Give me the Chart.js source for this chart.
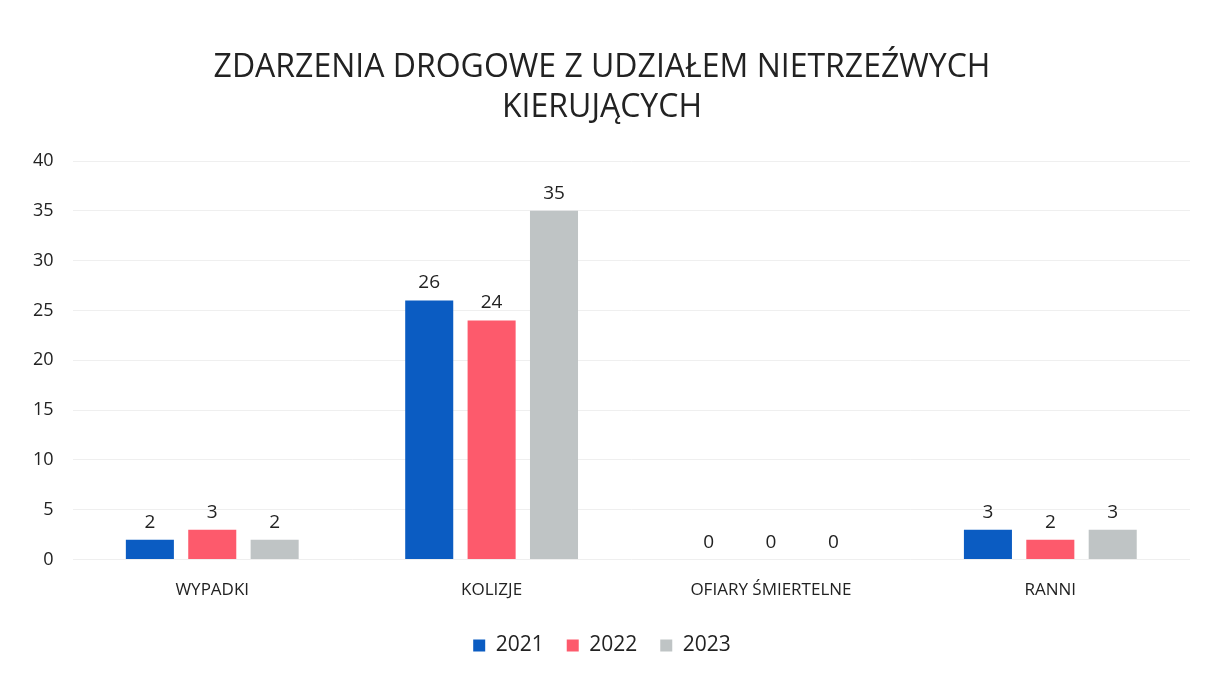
<!DOCTYPE html>
<html>
<head>
<meta charset="utf-8">
<script src="https://cdn.jsdelivr.net/npm/chart.js@4.4.1/dist/chart.umd.min.js"></script>
<style>
  html, body { margin: 0; padding: 0; background: #fff; }
  #wrap { width: 1210px; height: 677px; }
</style>
</head>
<body>
<div id="wrap"><canvas id="chart"></canvas></div>
<script>
// Data
const categories = ['WYPADKI', 'KOLIZJE', 'OFIARY ŚMIERTELNE', 'RANNI'];
const values2021 = [2, 26, 0, 3];
const values2022 = [3, 24, 0, 2];
const values2023 = [2, 35, 0, 3];
const seriesLabels = ['2021', '2022', '2023'];

// Draw the value above each bar
var valueLabels = {
    id: 'valueLabels',
    afterDatasetsDraw: function(chart) {
        var ctx = chart.ctx;
        ctx.save();
        ctx.fillStyle = '#222';
        ctx.font = '19px "Open Sans", sans-serif';
        ctx.textAlign = 'center';
        ctx.textBaseline = 'bottom';
        chart.data.datasets.forEach(function(ds, i) {
            chart.getDatasetMeta(i).data.forEach(function(bar, j) {
                ctx.fillText(ds.data[j], bar.x, bar.y - 8);
            });
        });
        ctx.restore();
    }
};

const ctx = document.getElementById('chart').getContext('2d');
const chart = new Chart(ctx, {
    type: 'bar',
    data: {
        labels: categories,
        datasets: [
            { label: seriesLabels[0], data: values2021, backgroundColor: '#0b5cc2' },
            { label: seriesLabels[1], data: values2022, backgroundColor: '#fd5a6c' },
            { label: seriesLabels[2], data: values2023, backgroundColor: '#bfc4c5' }
        ]
    },
    options: {
        responsive: true,
        maintainAspectRatio: false,
        animation: false,
        layout: { padding: { left: 14, right: 20, top: 10, bottom: 11 } },
        datasets: {
            bar: { categoryPercentage: 0.67, barPercentage: 0.77 }
        },
        scales: {
            x: {
                grid: { display: false },
                border: { display: false },
                ticks: { color: '#222', font: { family: '"Open Sans", sans-serif', size: 17 }, padding: 12 }
            },
            y: {
                min: 0,
                max: 40,
                ticks: { stepSize: 5, color: '#222', font: { family: '"Open Sans", sans-serif', size: 18 }, padding: 19 },
                grid: { color: '#efefef', drawTicks: false },
                border: { display: false }
            }
        },
        plugins: {
            title: {
                display: true,
                text: ['ZDARZENIA DROGOWE Z UDZIAŁEM NIETRZEŹWYCH', 'KIERUJĄCYCH'],
                color: '#222',
                font: { family: '"Open Sans", sans-serif', size: 32, weight: 'normal', lineHeight: 1.25 },
                padding: { top: 38, bottom: 33 }
            },
            legend: {
                position: 'bottom',
                labels: {
                    color: '#222',
                    font: { family: '"Open Sans", sans-serif', size: 21 },
                    boxWidth: 12,
                    boxHeight: 12,
                    padding: 23
                }
            },
            tooltip: { enabled: false }
        }
    },
    plugins: [valueLabels]
});
</script>
</body>
</html>
